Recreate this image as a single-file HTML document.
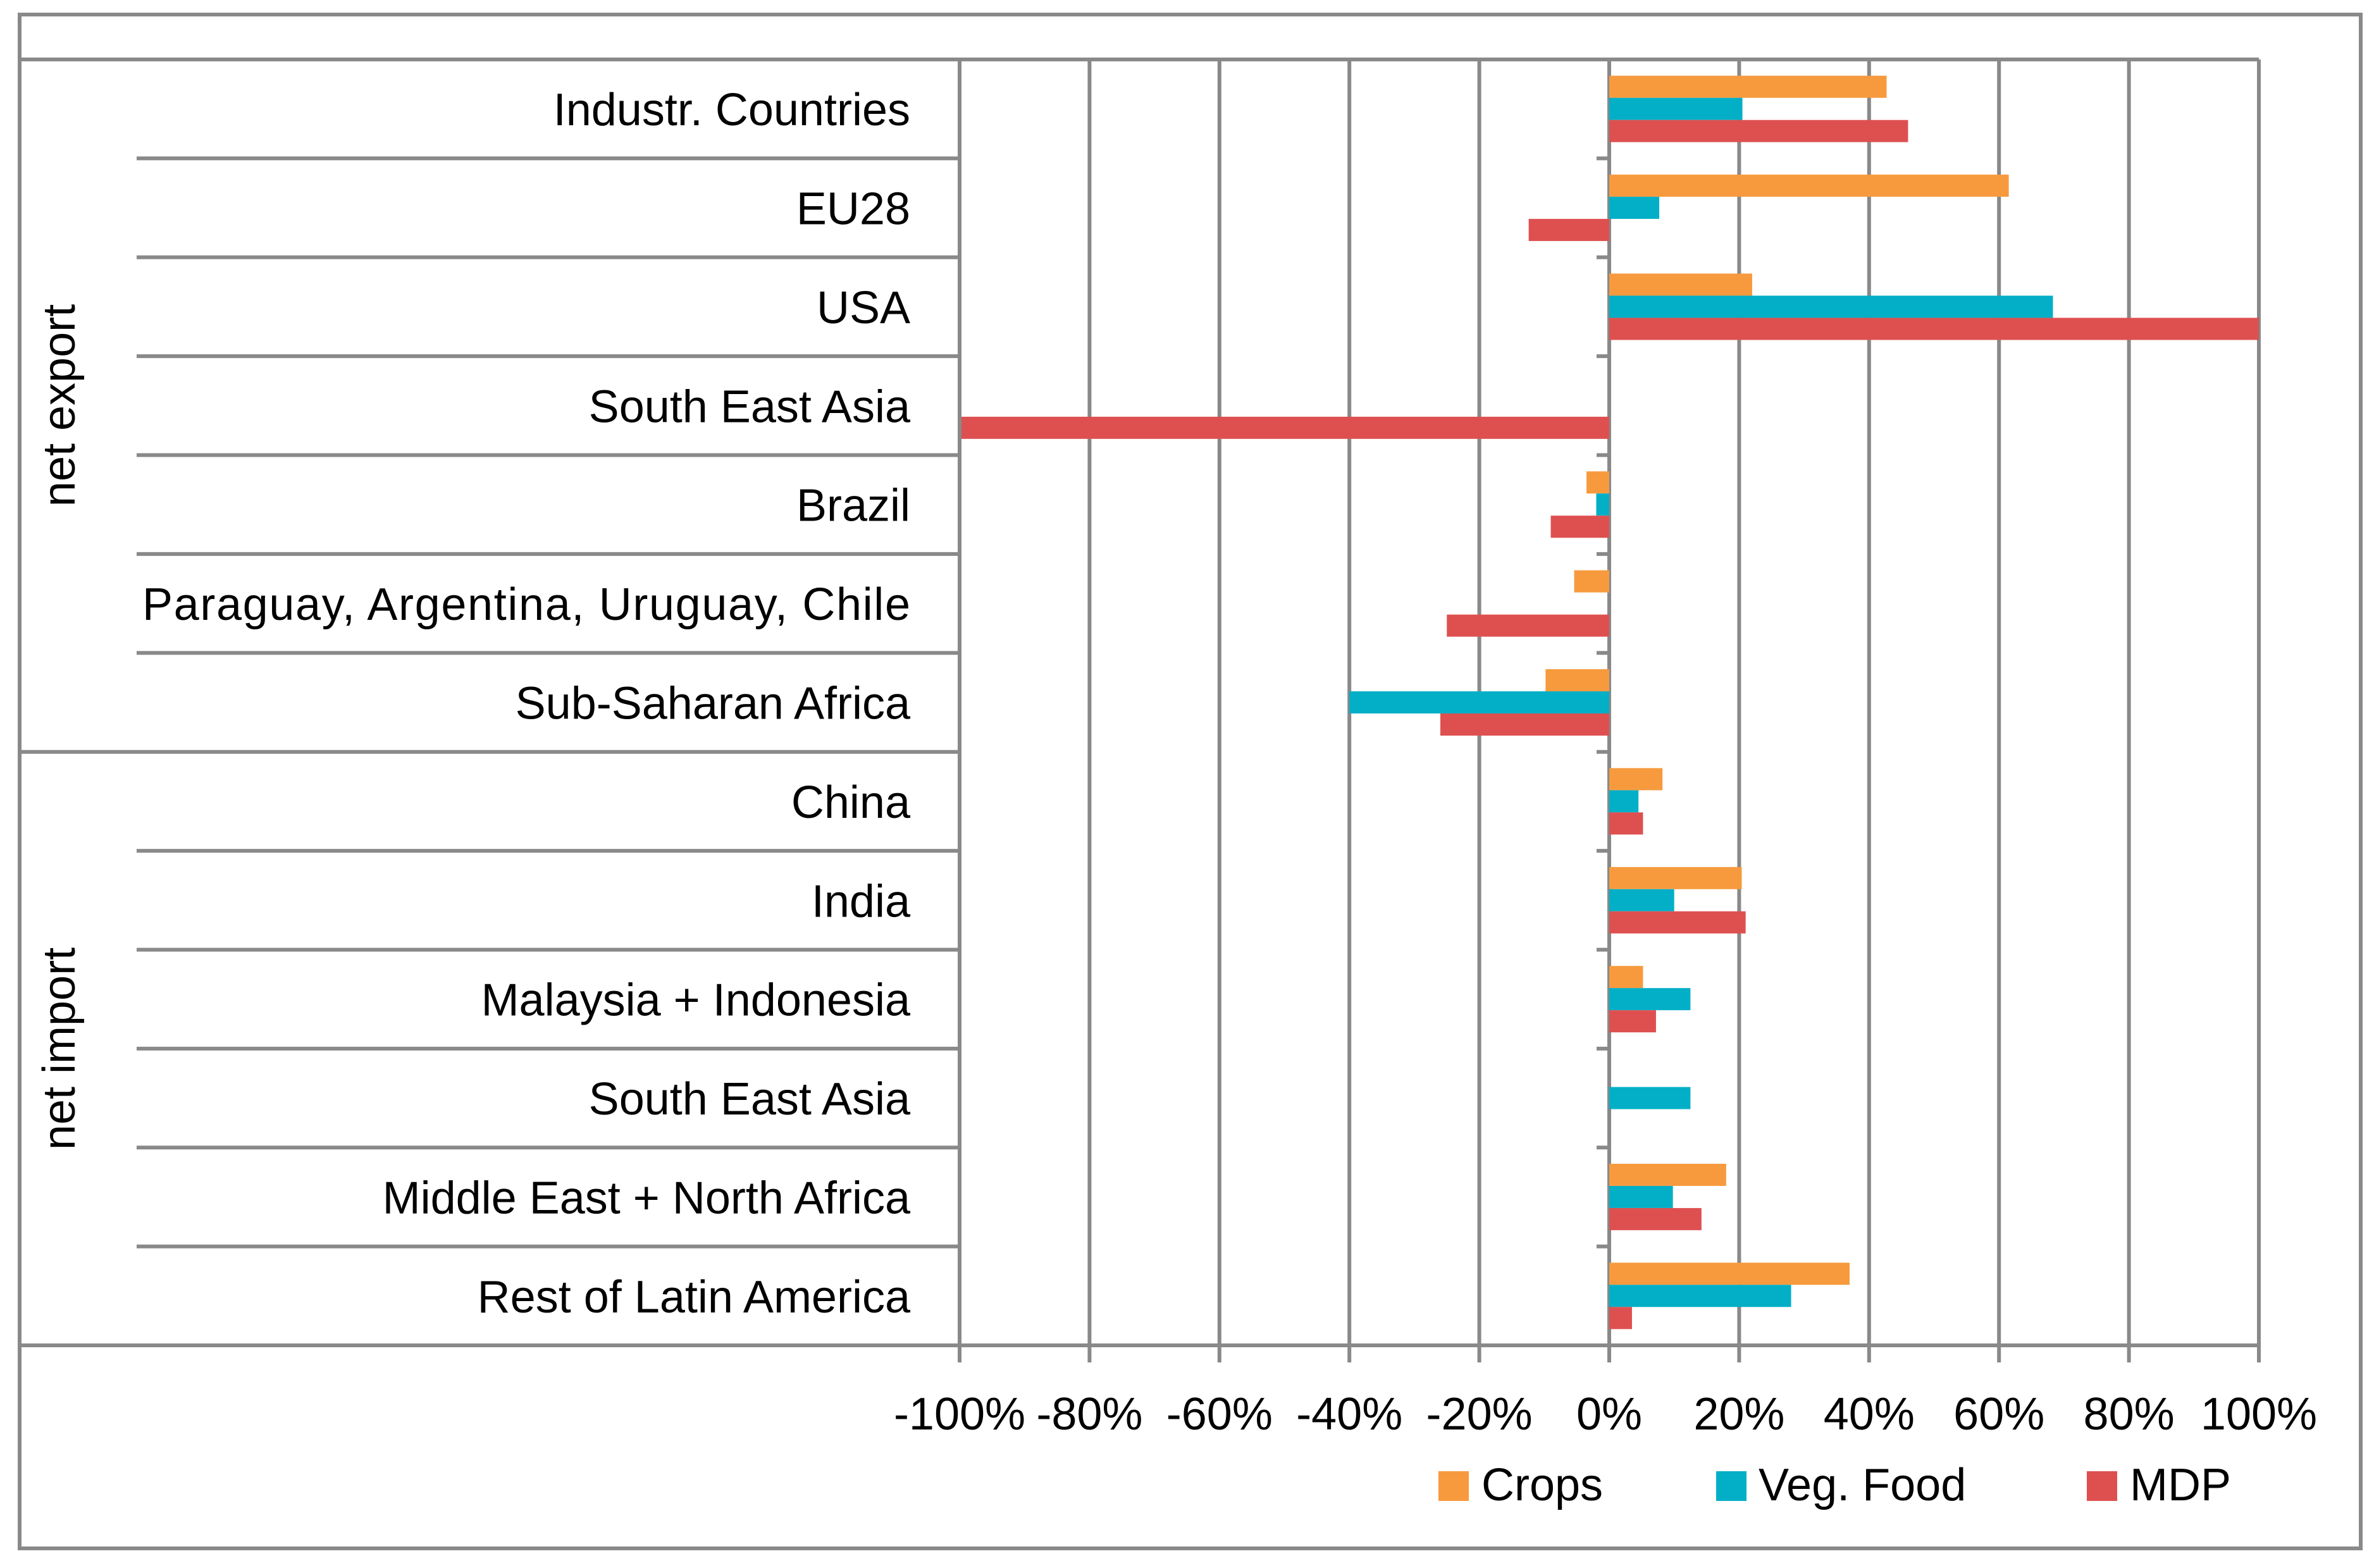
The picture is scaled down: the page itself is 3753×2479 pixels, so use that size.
<!DOCTYPE html>
<html><head><meta charset="utf-8"><style>
html,body{margin:0;padding:0;background:#fff;}
svg{display:block;}
text{font-family:"Liberation Sans",sans-serif;fill:#000;}
</style></head><body>
<svg id="chart" width="3753" height="2479" viewBox="0 0 3753 2479" xmlns="http://www.w3.org/2000/svg">
<rect x="31" y="23" width="3701" height="2425" fill="#fff" stroke="#898989" stroke-width="6"/>
<g id="grid"></g><g id="bars"></g><g id="axes"></g><g id="labels"></g>
<text transform="translate(118,641) rotate(-90)" text-anchor="middle" font-size="72">net export</text>
<text transform="translate(118,1658) rotate(-90)" text-anchor="middle" font-size="72">net import</text>
<g>
<rect x="2274" y="2326" width="48" height="47" fill="#f79a3e"/>
<text x="2342" y="2372" font-size="72">Crops</text>
<rect x="2713" y="2326" width="48" height="47" fill="#03afc7"/>
<text x="2780" y="2372" font-size="72">Veg. Food</text>
<rect x="3299" y="2326" width="48" height="47" fill="#de5050"/>
<text x="3367" y="2372" font-size="72">MDP</text>
</g>
</svg>
<script>
const categories=["Industr. Countries","EU28","USA","South East Asia","Brazil","Paraguay, Argentina, Uruguay, Chile","Sub-Saharan Africa","China","India","Malaysia + Indonesia","South East Asia","Middle East + North Africa","Rest of Latin America"];
const crops=[42.7,61.5,22,0,-3.5,-5.4,-9.8,8.2,20.4,5.2,0,18,37];
const vegFood=[20.5,7.7,68.3,0,-2,0,-40,4.5,10,12.5,12.5,9.8,28];
const mdp=[46,-12.4,100,-100,-9,-25,-26,5.2,21,7.2,0,14.2,3.5];
const ticks=[-100,-80,-60,-40,-20,0,20,40,60,80,100];
const NS="http://www.w3.org/2000/svg";
const X0=1517,X1=3571,TOP=94,BOT=2127;
const xs=v=>X0+(v+100)/200*(X1-X0);
const rowH=(BOT-TOP)/categories.length;
const ys=i=>TOP+i*rowH;
function mk(tag,attrs,parent){const e=document.createElementNS(NS,tag);for(const k in attrs)e.setAttribute(k,attrs[k]);document.getElementById(parent).appendChild(e);return e;}
const G="#898989";
ticks.forEach((t,i)=>{
 const l=mk('line',{x1:xs(t),x2:xs(t),y1:TOP,y2:2154,stroke:G,'stroke-width':6},'grid');
 
 
 const tx=mk('text',{x:xs(t),y:2260,'text-anchor':'middle','font-size':72},'labels');
 
 
 tx.textContent=t+'%';
});
const series=[[crops,'#f79a3e','crops'],[vegFood,'#03afc7','veg-food'],[mdp,'#de5050','mdp']];
const bh=35;
categories.forEach((c,i)=>{
 const cy=ys(i)+rowH/2;
 series.forEach((s,j)=>{
  const v=s[0][i]; if(v===0)return;
  const y=cy-1.5*bh+j*bh;
  const x=Math.min(xs(0),xs(v)),w=Math.abs(xs(v)-xs(0));
  const r=mk('rect',{x:x,y:y,width:w,height:bh,fill:s[1]},'bars');
  
  
 });
 const tx=mk('text',{x:1439,y:cy+26,'text-anchor':'end','font-size':72},'labels');
 
 
 tx.textContent=c;
 if(c.length>30)tx.setAttribute('textLength',1214);
});
for(let i=0;i<=categories.length;i++){
 const y=ys(i);
 let x1=216;
 if(i===0||i===7||i===categories.length)x1=31;
 const l=mk('line',{x1:x1,x2:(i===0||i===categories.length)?X1:X0,y1:y,y2:y,stroke:G,'stroke-width':6},'axes');
 
 
 const t=mk('line',{x1:xs(0)-20,x2:xs(0),y1:y,y2:y,stroke:G,'stroke-width':6},'axes');
 
 
}
const la=mk('line',{x1:X0,x2:X0,y1:TOP,y2:2154,stroke:G,'stroke-width':6},'axes');


</script>
</body></html>
